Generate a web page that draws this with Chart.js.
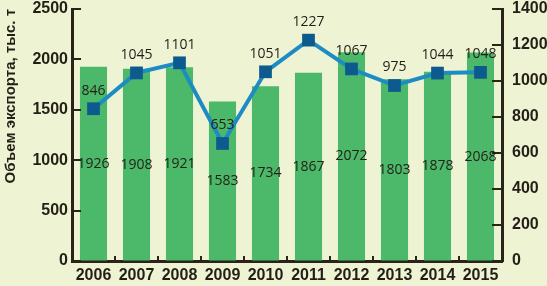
<!DOCTYPE html>
<html>
<head>
<meta charset="utf-8">
<script src="https://cdn.jsdelivr.net/npm/chart.js@4"></script>
<style>
  html, body { margin: 0; padding: 0; background: #eef3d3; }
  #wrap { width: 547px; height: 286px; }
</style>
</head>
<body>
<div id="wrap"><canvas id="chart"></canvas></div>
<script>
const years = ['2006', '2007', '2008', '2009', '2010', '2011', '2012', '2013', '2014', '2015'];
const exportVolume = [1926, 1908, 1921, 1583, 1734, 1867, 2072, 1803, 1878, 2068];
const exportValue = [846, 1045, 1101, 653, 1051, 1227, 1067, 975, 1044, 1048];
const leftTicks = [0, 500, 1000, 1500, 2000, 2500];
const rightTicks = [0, 200, 400, 600, 800, 1000, 1200, 1400];

const axisColor = '#2a2418';
const textColor = '#231f16';

// value labels + inward tick marks
const labelsPlugin = {
  id: 'labels',
  afterDatasetsDraw(chart) {
    const ctx = chart.ctx;
    const area = chart.chartArea;
    ctx.save();
    ctx.strokeStyle = axisColor;
    ctx.lineWidth = 2;
    const y = chart.scales.y, y1 = chart.scales.y1, x = chart.scales.x;
    leftTicks.forEach(v => {
      const py = Math.round(y.getPixelForValue(v));
      ctx.beginPath(); ctx.moveTo(area.left, py); ctx.lineTo(area.left + 9, py); ctx.stroke();
    });
    rightTicks.forEach(v => {
      const py = Math.round(y1.getPixelForValue(v));
      ctx.beginPath(); ctx.moveTo(area.right, py); ctx.lineTo(area.right - 10, py); ctx.stroke();
    });
    for (let i = 1; i < years.length; i++) {
      const px = Math.round((x.getPixelForValue(i - 1) + x.getPixelForValue(i)) / 2);
      ctx.beginPath(); ctx.moveTo(px, area.bottom); ctx.lineTo(px, area.bottom - 5); ctx.stroke();
    }

    ctx.fillStyle = textColor;
    ctx.font = '14px "Open Sans"';
    ctx.textAlign = 'center';
    ctx.textBaseline = 'middle';
    chart.getDatasetMeta(1).data.forEach((bar, i) => {
      const cy = (bar.y + bar.base) / 2;
      ctx.fillText(exportVolume[i], bar.x, cy);
    });
    chart.getDatasetMeta(0).data.forEach((pt, i) => {
      ctx.fillText(exportValue[i], pt.x, pt.y - 18);
    });
    ctx.restore();
  }
};

const tickFont = { family: 'Liberation Sans', size: 16, weight: 'bold' };
const plain = v => String(v);

new Chart(document.getElementById('chart'), {
  data: {
    labels: years,
    datasets: [{
      type: 'line',
      label: 'exportValue',
      data: exportValue,
      yAxisID: 'y1',
      borderColor: '#1d8cc3',
      borderWidth: 4,
      pointStyle: 'rect',
      pointRadius: 9,
      pointBackgroundColor: '#0d5a8e',
      pointBorderColor: '#0d5a8e',
      pointBorderWidth: 0,
      tension: 0,
      order: 0
    }, {
      type: 'bar',
      label: 'exportVolume',
      data: exportVolume,
      yAxisID: 'y',
      backgroundColor: '#4cb869',
      categoryPercentage: 1,
      barPercentage: 0.63,
      order: 1
    }]
  },
  options: {
    responsive: true,
    maintainAspectRatio: false,
    animation: false,
    layout: { padding: { top: 5, left: 2 } },
    plugins: {
      legend: { display: false },
      tooltip: { enabled: false }
    },
    scales: {
      x: {
        grid: { display: false, drawTicks: false },
        border: { display: true, color: axisColor, width: 3 },
        ticks: { color: textColor, font: tickFont, padding: 5 },
        afterFit: s => { s.height = 25; s.paddingLeft = 0; s.paddingRight = 0; }
      },
      y: {
        position: 'left',
        min: 0, max: 2500,
        grid: { drawOnChartArea: false, drawTicks: false },
        border: { display: true, color: axisColor, width: 3 },
        ticks: { stepSize: 500, color: textColor, font: tickFont, padding: 4, callback: plain },
        title: { display: true, align: 'end', text: 'Объем экспорта, тыс. т', color: textColor, font: { family: 'Liberation Sans', size: 15, weight: 'bold' }, padding: 0 },
        afterFit: s => { s.width = 70; s.paddingTop = 0; s.paddingBottom = 0; }
      },
      y1: {
        position: 'right',
        min: 0, max: 1400,
        grid: { drawOnChartArea: false, drawTicks: false },
        border: { display: true, color: axisColor, width: 3 },
        ticks: { stepSize: 200, color: textColor, font: tickFont, padding: 10, callback: plain },
        afterFit: s => { s.width = 45; s.paddingTop = 0; s.paddingBottom = 0; }
      }
    }
  },
  plugins: [labelsPlugin]
});
</script>
</body>
</html>
